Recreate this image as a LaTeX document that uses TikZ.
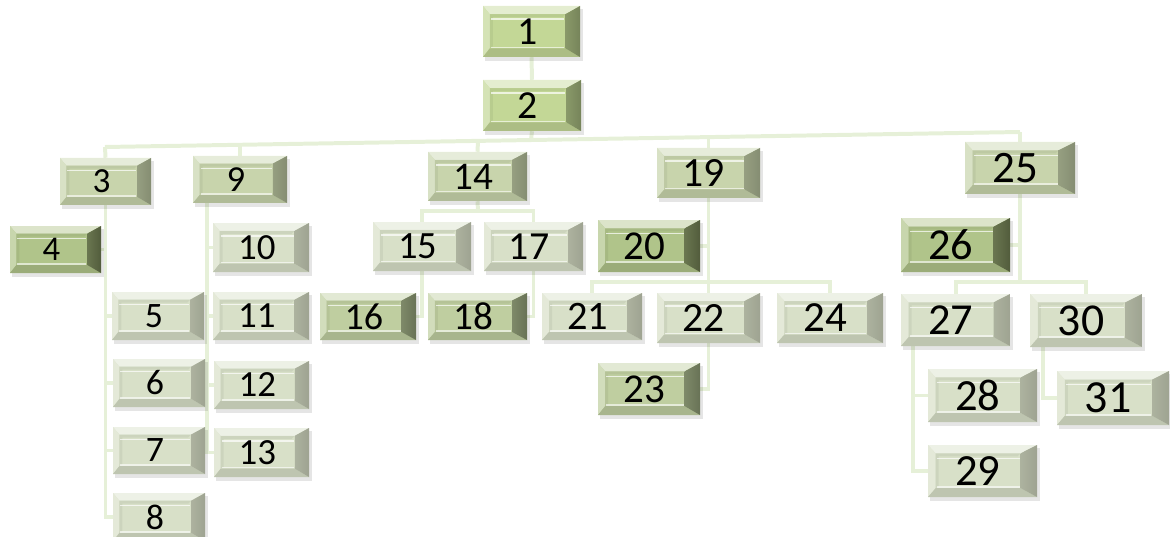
\documentclass[tikz,border=0pt]{standalone}
\usepackage{fontspec}
\setmainfont{Carlito}
\usetikzlibrary{backgrounds}
\definecolor{faceA}{HTML}{C3D796}\definecolor{sideA}{HTML}{76845A}
\definecolor{faceB}{HTML}{B0C48A}\definecolor{sideB}{HTML}{525C3C}
\definecolor{faceC}{HTML}{C8D4AC}\definecolor{sideC}{HTML}{858D72}
\definecolor{faceD}{HTML}{D8E0C8}\definecolor{sideD}{HTML}{9EA391}
\definecolor{faceE}{HTML}{BFCEA0}\definecolor{sideE}{HTML}{687256}
\definecolor{linkc}{HTML}{E6F0D8}
\tikzset{
  link/.style={draw=linkc, line width=3.4pt},
  boxlabel/.style={inner sep=0pt, text=black}
}
\newcommand\bx[7]{%
  \pgfmathsetmacro\bxW{#4-#2}%
  \pgfmathsetmacro\bxH{#5-#3}%
  \pgfmathsetmacro\bxL{#2+0.07*\bxW}%
  \pgfmathsetmacro\bxR{#4-0.15*\bxW}%
  \pgfmathsetmacro\bxT{#3+0.16*\bxH}%
  \pgfmathsetmacro\bxB{#5-0.17*\bxH}%
  \pgfmathsetmacro\bxWc{\bxW*0.03}%
  \pgfmathsetmacro\bxHc{\bxH*0.03}%
  \pgfmathsetmacro\bxS{0.075*\bxW}%
  \pgfmathsetmacro\bxF{1.42*(20.5+7.5*((#2+#4)/2340))}%
  \fill[black,opacity=.10] (#2+2,#3+3) rectangle (#4+3,#5+4);
  \fill[face#7] (#2,#3) rectangle (#4,#5);
  \fill[face#7!45!white] (#2,#3) -- (#4,#3) -- (\bxR,\bxT) -- (\bxL,\bxT) -- cycle;
  \fill[face#7!70!white] (#2,#3) -- (\bxL,\bxT) -- (\bxL,\bxB) -- (#2,#5) -- cycle;
  \fill[face#7!88!black] (#2,#5) -- (\bxL,\bxB) -- (\bxR,\bxB) -- (#4,#5) -- cycle;
  \shade[left color=side#7!75!face#7, right color=side#7] (#4,#3) -- (\bxR,\bxT) -- (\bxR,\bxB) -- (#4,#5) -- cycle;
  \fill[face#7!90!black,opacity=.5] (\bxL,\bxT) -- (\bxR,\bxT) -- (\bxR-3,\bxT+3) -- (\bxL+3,\bxT+3) -- (\bxL+3,\bxB-2) -- (\bxL,\bxB) -- cycle;
  \draw[white,opacity=.7,line width=1.2pt] (\bxL+1,\bxT+5) -- (\bxR-1,\bxT+5);
  \draw[white,opacity=.6,line width=1.2pt] (\bxL+1,\bxB-1) -- (\bxR-1,\bxB-1);
  \node[boxlabel, minimum width=\bxWc cm, minimum height=\bxHc cm,
        font=\fontsize{\bxF pt}{\bxF pt}\selectfont]
        (#1) at ({(#2+#4)/2},{(#3+#5)/2}) {#6\kern\bxS pt};
}
\begin{document}
\begin{tikzpicture}[x=0.03cm,y=-0.03cm]
\useasboundingbox (0,0) rectangle (1170,537);
% boxes
\bx{n1}{483}{6}{580}{57}{1}{A}
\bx{n2}{483}{80}{581}{131}{2}{A}
\bx{n3}{60}{158}{151}{205}{3}{C}
\bx{n9}{193}{156}{287}{203}{9}{C}
\bx{n14}{428}{152}{527}{201}{14}{C}
\bx{n19}{657}{148}{760}{198}{19}{C}
\bx{n25}{965}{142}{1075}{194}{25}{C}
\bx{n4}{10}{226}{101}{273}{4}{B}
\bx{n10}{213}{223}{309}{272}{10}{D}
\bx{n15}{373}{222}{471}{271}{15}{D}
\bx{n17}{484}{222}{583}{271}{17}{D}
\bx{n20}{598}{220}{700}{272}{20}{B}
\bx{n26}{901}{218}{1010}{272}{26}{B}
\bx{n5}{112}{292}{204}{340}{5}{D}
\bx{n11}{213}{292}{309}{340}{11}{D}
\bx{n16}{320}{293}{416}{340}{16}{E}
\bx{n18}{428}{293}{527}{340}{18}{E}
\bx{n21}{542}{293}{642}{340}{21}{D}
\bx{n22}{657}{293}{760}{343}{22}{D}
\bx{n24}{777}{293}{883}{343}{24}{D}
\bx{n27}{901}{294}{1010}{346}{27}{D}
\bx{n30}{1030}{294}{1142}{347}{30}{D}
\bx{n6}{113}{359}{205}{407}{6}{D}
\bx{n12}{214}{361}{309}{409}{12}{D}
\bx{n23}{598}{363}{700}{415}{23}{E}
\bx{n28}{928}{369}{1037}{422}{28}{D}
\bx{n31}{1057}{371}{1169}{425}{31}{D}
\bx{n7}{113}{427}{205}{474}{7}{D}
\bx{n13}{214}{428}{309}{477}{13}{D}
\bx{n29}{928}{445}{1037}{497}{29}{D}
\bx{n8}{113}{493}{205}{541}{8}{D}
% connectors
\begin{scope}[on background layer]
\coordinate (b3) at (105,147);
\coordinate (b9) at (240,144.8);
\coordinate (b14) at (478,140.9);
\coordinate (b2) at (531,140);
\coordinate (b19) at (708.5,137.1);
\coordinate (b25) at (1020,132);
\draw[link] (n1.south) -- (n2.north);
\draw[link] (n2.south) -- (b2);
\draw[link] (b3) -- (b25);
\draw[link] (b3) -- (n3.north);
\draw[link] (b9) -- (n9.north);
\draw[link] (b14) -- (n14.north);
\draw[link] (b19) -- (n19.north);
\draw[link] (b25) -- (n25.north);
% 3
\draw[link] (n3.south) -- (n3.south |- n8.west) -- (n8.west);
\draw[link] (n4.east) -- (n4.east -| n3.south);
\draw[link] (n5.west) -- (n5.west -| n3.south);
\draw[link] (n6.west) -- (n6.west -| n3.south);
\draw[link] (n7.west) -- (n7.west -| n3.south);
% 9
\coordinate (t9) at (207,203);
\draw[link] (t9) |- (n13.west);
\draw[link] (n10.west) -- (n10.west -| t9);
\draw[link] (n11.west) -- (n11.west -| t9);
\draw[link] (n12.west) -- (n12.west -| t9);
% 14
\coordinate (h14) at (478,211);
\draw[link] (n14.south) -- (h14);
\draw[link] (n15.north) |- (h14) -| (n17.north);
\draw[link] (n15.south) |- (n16.east);
\draw[link] (n17.south) |- (n18.east);
% 19
\coordinate (h19) at (708.5,282);
\draw[link] (n19.south) -- (n22.north);
\draw[link] (n20.east) -- (n20.east -| n19.south);
\draw[link] (n21.north) |- (h19) -| (n24.north);
\draw[link] (n22.south) |- (n23.east);
% 25
\coordinate (h25) at (1020,282);
\draw[link] (n25.south) -- (h25);
\draw[link] (n26.east) -- (n26.east -| n25.south);
\draw[link] (n27.north) |- (h25) -| (n30.north);
\coordinate (t27) at (913,346);
\draw[link] (t27) |- (n29.west);
\draw[link] (n28.west) -- (n28.west -| t27);
\coordinate (t30) at (1043,347);
\draw[link] (t30) |- (n31.west);
\end{scope}
\end{tikzpicture}
\end{document}
